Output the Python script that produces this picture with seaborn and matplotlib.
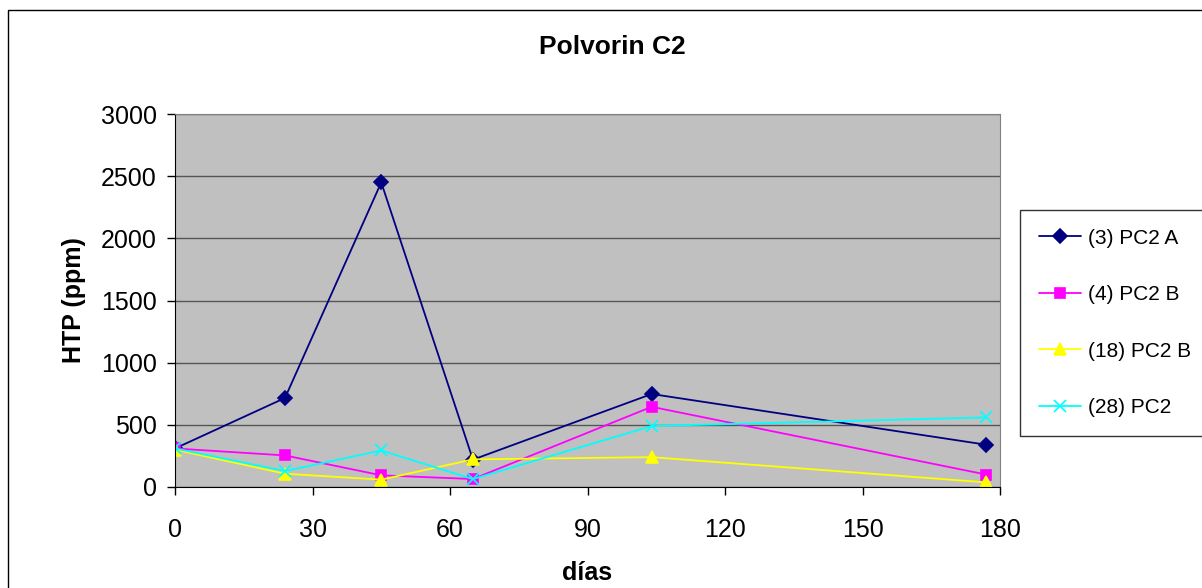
"""Polvorin C2 - HTP over time, four sampling points."""

import matplotlib
matplotlib.use("Agg")

import matplotlib.pyplot as plt
import pandas as pd
import seaborn as sns
from matplotlib.patches import Rectangle

dias = [0, 24, 45, 65, 104, 177]
serie_3a = [310, 716, 2450, 220, 748, 340]
serie_4b = [310, 254, 94, 64, 645, 100]
serie_18b = [300, 107, 59, 222, 240, 37]
serie_28 = [310, 128, 294, 64, 490, 560]
series_names = ["(3) PC2 A", "(4) PC2 B", "(18) PC2 B", "(28) PC2"]
colors = ["#000080", "#FF00FF", "#FFFF00", "#00FFFF"]
markers = ["D", "s", "^", "x"]
marker_sizes = [7, 7, 8, 8]

df = pd.concat(
    [
        pd.DataFrame({"dias": dias, "htp": vals, "serie": name})
        for name, vals in zip(series_names, [serie_3a, serie_4b, serie_18b, serie_28])
    ],
    ignore_index=True,
)

sns.set_style("white")
plt.rcParams["font.family"] = ["Liberation Sans", "DejaVu Sans"]
plt.rcParams["text.color"] = "black"
plt.rcParams["axes.labelcolor"] = "black"

fig = plt.figure(figsize=(12.02, 5.88), dpi=100)
ax = fig.add_axes([175 / 1202, 1 - 487 / 588, 825 / 1202, 373 / 588])
ax.set_facecolor("#C0C0C0")

# one call per series: seaborn won't mix filled and line-art markers
for name, c, m, ms in zip(series_names, colors, markers, marker_sizes):
    sns.lineplot(
        data=df[df["serie"] == name], x="dias", y="htp",
        color=c, marker=m, markersize=ms, markeredgewidth=1.2,
        markerfacecolor=c, markeredgecolor=c, linewidth=1.3,
        ax=ax, label=name, legend=False,
    )

ax.set_xlim(0, 180)
ax.set_ylim(0, 3000)
ax.set_xticks(range(0, 181, 30))
ax.set_yticks(range(0, 3001, 500))
ax.yaxis.grid(True, color="#555555", linewidth=1)
ax.set_axisbelow(True)
ax.tick_params(axis="both", labelsize=18, length=6, width=1, direction="out",
               left=True, bottom=True, colors="black")
ax.tick_params(axis="x", pad=16)
ax.tick_params(axis="y", pad=7)
for side in ["top", "right"]:
    ax.spines[side].set_color("#808080")
for side in ["left", "bottom"]:
    ax.spines[side].set_color("black")

ax.set_xlabel("días", fontsize=18, fontweight="bold", labelpad=14)
ax.set_ylabel("HTP (ppm)", fontsize=18, fontweight="bold", labelpad=11)
fig.text(612 / 1202, 1 - 47 / 588, "Polvorin C2", fontsize=19,
         fontweight="bold", ha="center", va="center")

handles = [
    plt.Line2D([], [], color=c, marker=m, markersize=ms, markeredgewidth=1.2,
               markerfacecolor=c, markeredgecolor=c, linewidth=1.3)
    for c, m, ms in zip(colors, markers, marker_sizes)
]
leg = fig.legend(
    handles, series_names, loc="center left",
    bbox_to_anchor=(1020 / 1202, 1 - 323 / 588), fontsize=15,
    frameon=True, fancybox=False, shadow=False, edgecolor="black",
    labelspacing=1.8, handlelength=2.05, handletextpad=0.3,
    borderpad=0.9, borderaxespad=0,
)
leg.get_frame().set_linewidth(1)

# outer chart border
fig.patches.append(Rectangle((8 / 1202, -0.1), 1.2, 1.1 - 10 / 588,
                             transform=fig.transFigure, fill=False,
                             edgecolor="black", linewidth=1))

fig.savefig("out.png", dpi=100)
plt.close(fig)
